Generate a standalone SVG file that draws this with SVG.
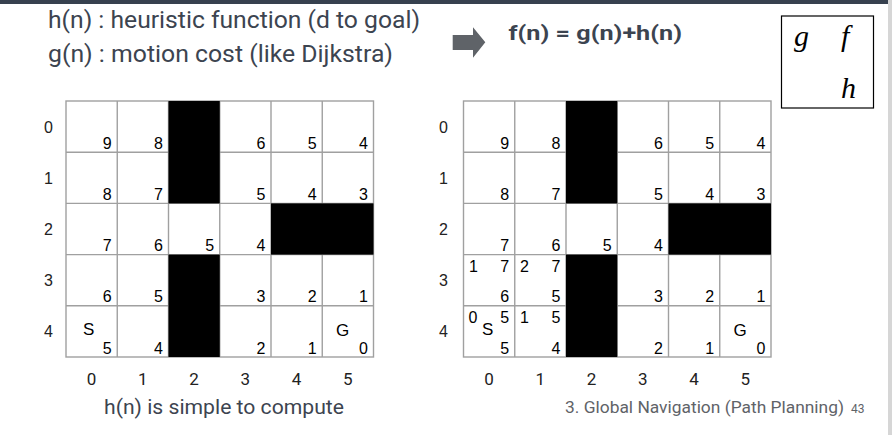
<svg xmlns="http://www.w3.org/2000/svg" width="892" height="435" viewBox="0 0 892 435">
<style>
.hd{font-family:Roboto,"Liberation Sans",sans-serif;font-size:24px;fill:#3c4450}
.fm{font-family:Roboto,"Liberation Sans",sans-serif;font-size:21px;font-weight:bold;fill:#3c4450}
.mi{font-family:"Liberation Serif",serif;font-style:italic;font-size:30px;fill:#000}
.n{font-family:"Liberation Sans",Arial,sans-serif;font-size:16px;fill:#000;text-anchor:end}
.ns{font-family:"Liberation Sans",Arial,sans-serif;font-size:16px;fill:#000}
.sg{font-family:"Liberation Sans",Arial,sans-serif;font-size:17px;fill:#000}
.rl{font-family:"Liberation Sans",Arial,sans-serif;font-size:16px;fill:#222;text-anchor:middle}
.cl{font-family:Roboto,"Liberation Sans",sans-serif;font-size:17px;fill:#222;text-anchor:middle}
.ft{font-family:Roboto,"Liberation Sans",sans-serif;font-size:20px;fill:#3c4450}
.fr{font-family:Roboto,"Liberation Sans",sans-serif;font-size:16px;fill:#5f6368}
.pg{font-family:Roboto,"Liberation Sans",sans-serif;font-size:12px;fill:#5f6368}
.gl{stroke:#a0a0a0;stroke-width:1.4;fill:none}
.blk{fill:#000}
</style>
<rect x="0" y="0" width="892" height="435" fill="#fff"/>
<rect x="0" y="0" width="888" height="4" fill="#37414f"/>
<rect x="888" y="0" width="4" height="435" fill="#d6d6d6"/>

<g id="header">
<text class="hd" x="48" y="28" textLength="372" lengthAdjust="spacingAndGlyphs">h(n) : heuristic function (d to goal)</text>
<text class="hd" x="48" y="62" textLength="345" lengthAdjust="spacingAndGlyphs">g(n) : motion cost (like Dijkstra)</text>
<polygon points="452.7,35 473,35 473,27.3 485.3,42.3 473,57.7 473,50 452.7,50" fill="#5f6368"/>
<text class="fm" x="508.5" y="40" textLength="173.5" lengthAdjust="spacingAndGlyphs">f(n) = g(n)+h(n)</text>
</g>

<g id="legend">
<rect x="781.5" y="16" width="92" height="92" fill="#fff" stroke="#000" stroke-width="1.2"/>
<text class="mi" x="794" y="46">g</text>
<text class="mi" x="841" y="46">f</text>
<text class="mi" x="841" y="98">h</text>
</g>

<g id="grid-left">
<rect x="66" y="101" width="307.5" height="256" fill="#fff"/>
<path class="gl" d="M117.25,101V357M168.5,101V357M219.75,101V357M271,101V357M322.25,101V357M66,152.2H373.5M66,203.4H373.5M66,254.6H373.5M66,305.8H373.5"/>
<rect class="gl" x="66" y="101" width="307.5" height="256"/>
<rect class="blk" x="168.5" y="101" width="51.25" height="102.4"/>
<rect class="blk" x="168.5" y="254.6" width="51.25" height="102.4"/>
<rect class="blk" x="271" y="203.4" width="102.5" height="51.2"/>
<text class="n" x="111.75" y="148.7">9</text><text class="n" x="163" y="148.7">8</text><text class="n" x="265.5" y="148.7">6</text><text class="n" x="316.75" y="148.7">5</text><text class="n" x="368" y="148.7">4</text>
<text class="n" x="111.75" y="199.9">8</text><text class="n" x="163" y="199.9">7</text><text class="n" x="265.5" y="199.9">5</text><text class="n" x="316.75" y="199.9">4</text><text class="n" x="368" y="199.9">3</text>
<text class="n" x="111.75" y="251.1">7</text><text class="n" x="163" y="251.1">6</text><text class="n" x="214.25" y="251.1">5</text><text class="n" x="265.5" y="251.1">4</text>
<text class="n" x="111.75" y="302.3">6</text><text class="n" x="163" y="302.3">5</text><text class="n" x="265.5" y="302.3">3</text><text class="n" x="316.75" y="302.3">2</text><text class="n" x="368" y="302.3">1</text>
<text class="n" x="111.75" y="353.5">5</text><text class="n" x="163" y="353.5">4</text><text class="n" x="265.5" y="353.5">2</text><text class="n" x="316.75" y="353.5">1</text><text class="n" x="368" y="353.5">0</text>
<text class="sg" x="83" y="335">S</text>
<text class="sg" x="336" y="336">G</text>
<text class="rl" x="48.5" y="132.5">0</text><text class="rl" x="48.5" y="183.5">1</text><text class="rl" x="48.5" y="234.5">2</text><text class="rl" x="48.5" y="285.5">3</text><text class="rl" x="48.5" y="336.5">4</text>
<text class="cl" x="91.6" y="385">0</text><text class="cl" x="142.9" y="385">1</text><text class="cl" x="194.1" y="385">2</text><text class="cl" x="245.4" y="385">3</text><text class="cl" x="296.6" y="385">4</text><text class="cl" x="347.9" y="385">5</text>
</g>

<g id="grid-right">
<rect x="463.5" y="101" width="307.5" height="256" fill="#fff"/>
<path class="gl" d="M514.75,101V357M566,101V357M617.25,101V357M668.5,101V357M719.75,101V357M463.5,152.2H771M463.5,203.4H771M463.5,254.6H771M463.5,305.8H771"/>
<rect class="gl" x="463.5" y="101" width="307.5" height="256"/>
<rect class="blk" x="566" y="101" width="51.25" height="102.4"/>
<rect class="blk" x="566" y="254.6" width="51.25" height="102.4"/>
<rect class="blk" x="668.5" y="203.4" width="102.5" height="51.2"/>
<text class="n" x="509.25" y="148.7">9</text><text class="n" x="560.5" y="148.7">8</text><text class="n" x="663" y="148.7">6</text><text class="n" x="714.25" y="148.7">5</text><text class="n" x="765.5" y="148.7">4</text>
<text class="n" x="509.25" y="199.9">8</text><text class="n" x="560.5" y="199.9">7</text><text class="n" x="663" y="199.9">5</text><text class="n" x="714.25" y="199.9">4</text><text class="n" x="765.5" y="199.9">3</text>
<text class="n" x="509.25" y="251.1">7</text><text class="n" x="560.5" y="251.1">6</text><text class="n" x="611.75" y="251.1">5</text><text class="n" x="663" y="251.1">4</text>
<text class="n" x="509.25" y="302.3">6</text><text class="n" x="560.5" y="302.3">5</text><text class="n" x="663" y="302.3">3</text><text class="n" x="714.25" y="302.3">2</text><text class="n" x="765.5" y="302.3">1</text>
<text class="n" x="509.25" y="353.5">5</text><text class="n" x="560.5" y="353.5">4</text><text class="n" x="663" y="353.5">2</text><text class="n" x="714.25" y="353.5">1</text><text class="n" x="765.5" y="353.5">0</text>
<text class="ns" x="469" y="271.5">1</text><text class="n" x="509.25" y="271.5">7</text>
<text class="ns" x="520" y="271.5">2</text><text class="n" x="560.5" y="271.5">7</text>
<text class="ns" x="468.5" y="323">0</text><text class="n" x="509.25" y="323">5</text>
<text class="ns" x="520" y="323">1</text><text class="n" x="560.5" y="323">5</text>
<text class="sg" x="482" y="334.5">S</text>
<text class="sg" x="733.5" y="336">G</text>
<text class="rl" x="443.5" y="132.5">0</text><text class="rl" x="443.5" y="183.5">1</text><text class="rl" x="443.5" y="234.5">2</text><text class="rl" x="443.5" y="285.5">3</text><text class="rl" x="443.5" y="336.5">4</text>
<text class="cl" x="489.1" y="385">0</text><text class="cl" x="540.4" y="385">1</text><text class="cl" x="591.6" y="385">2</text><text class="cl" x="642.9" y="385">3</text><text class="cl" x="694.1" y="385">4</text><text class="cl" x="745.4" y="385">5</text>
</g>

<g id="footer">
<text class="ft" x="104" y="414" textLength="240" lengthAdjust="spacingAndGlyphs">h(n) is simple to compute</text>
<text class="fr" x="565" y="413" textLength="279" lengthAdjust="spacingAndGlyphs">3. Global Navigation (Path Planning)</text>
<text class="pg" x="851" y="413">43</text>
</g>
</svg>
